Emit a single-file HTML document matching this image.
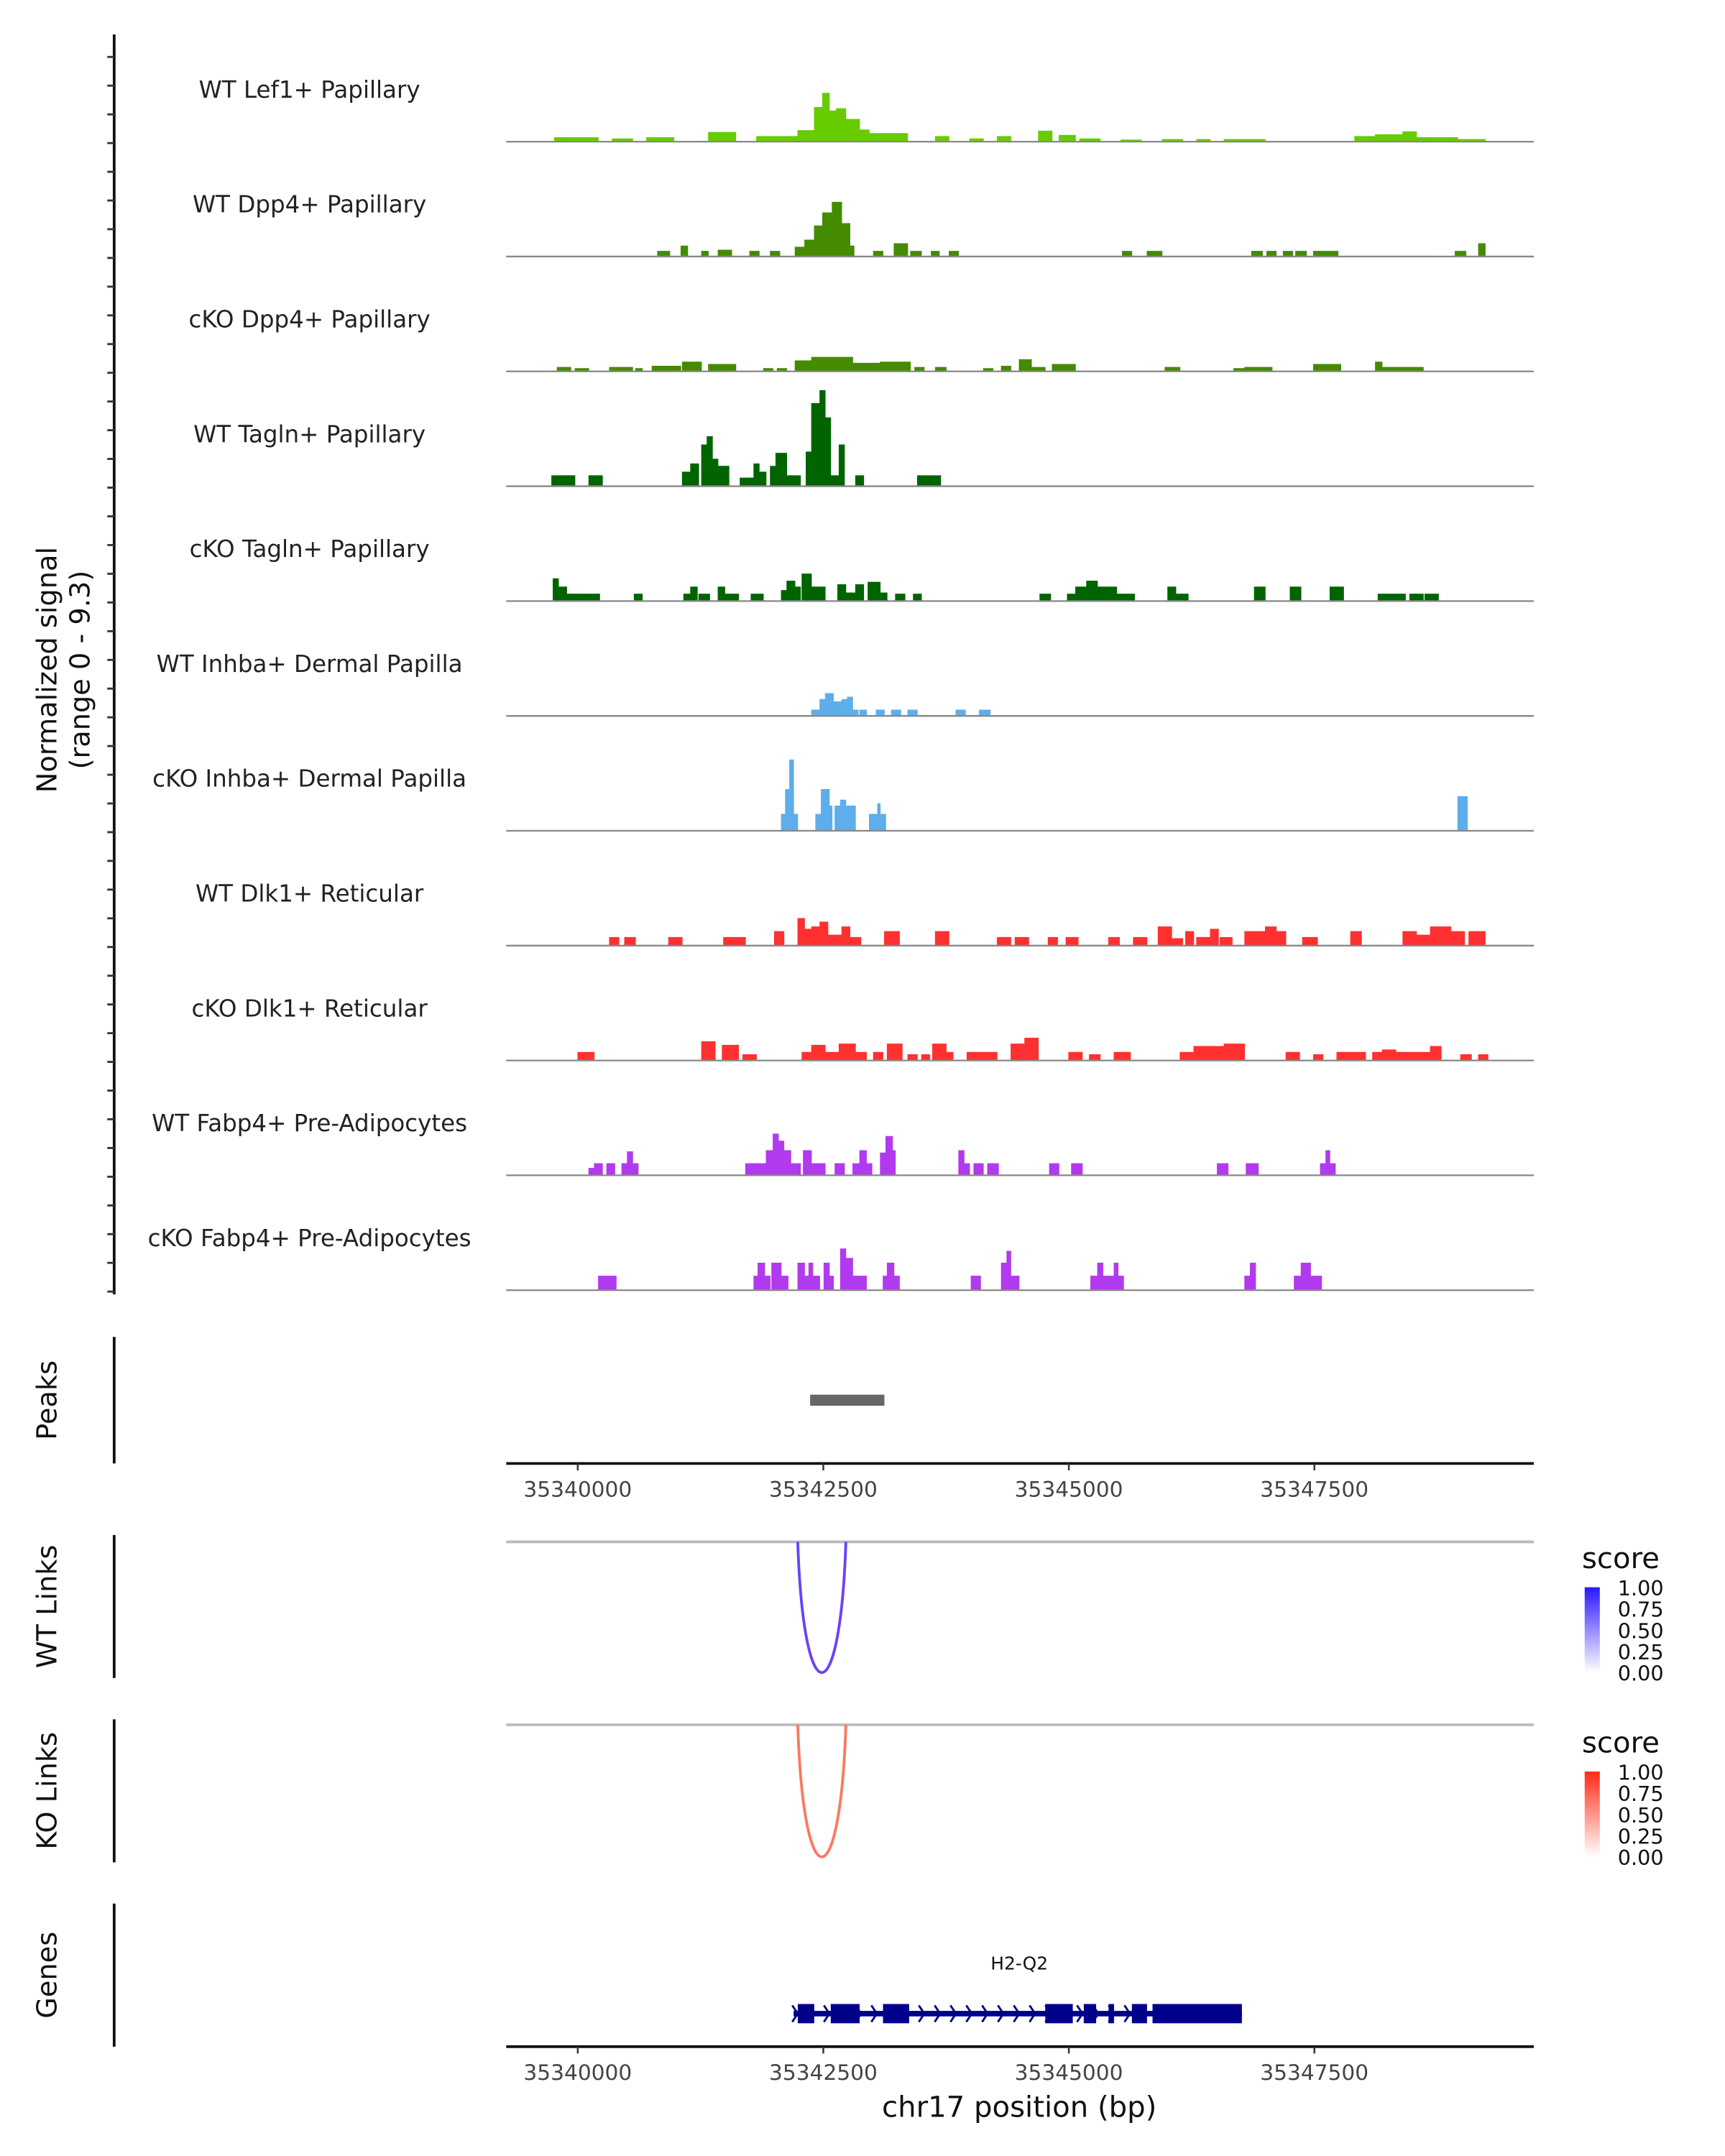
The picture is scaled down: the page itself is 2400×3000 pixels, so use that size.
<!DOCTYPE html>
<html><head><meta charset="utf-8"><style>
html,body{margin:0;padding:0;background:#fff;}
svg{display:block;font-family:"DejaVu Sans","Liberation Sans",sans-serif;}
</style></head><body>
<svg id="chart" width="2400" height="3000" viewBox="0 0 1254 1567.5" xmlns="http://www.w3.org/2000/svg">
<defs>
<linearGradient id="gWT" x1="0" y1="0" x2="0" y2="1"><stop offset="0" stop-color="#2b17ff"/><stop offset="1" stop-color="#ffffff"/></linearGradient>
<linearGradient id="gKO" x1="0" y1="0" x2="0" y2="1"><stop offset="0" stop-color="#ff2a17"/><stop offset="1" stop-color="#ffffff"/></linearGradient>
</defs>
<g id="root"></g>
</svg>
<script>
const REGION_START = 35340140;
const xTicks = [35340000, 35342500, 35345000, 35347500];
const trackNames = ["WT Lef1+ Papillary","WT Dpp4+ Papillary","cKO Dpp4+ Papillary","WT Tagln+ Papillary","cKO Tagln+ Papillary","WT Inhba+ Dermal Papilla","cKO Inhba+ Dermal Papilla","WT Dlk1+ Reticular","cKO Dlk1+ Reticular","WT Fabp4+ Pre-Adipocytes","cKO Fabp4+ Pre-Adipocytes"];
const trackColors = ["#66cc00","#458b00","#458b00","#006400","#006400","#5daeea","#5daeea","#ff3030","#ff3030","#b23aee","#b23aee"];
const Y_MAX = 9.3;
// blocks: [start offset bp, end offset bp, signal]
const lef1WT = [[-378,70,0.35],[210,420,0.25],[560,840,0.35],[1190,1470,0.8],[1680,2100,0.45],[2100,2268,0.95],[2268,2352,2.9],[2352,2422,4.1],[2422,2492,2.6],[2492,2590,2.8],[2590,2730,1.9],[2730,2828,1.0],[2828,3220,0.7],[3500,3640,0.45],[3850,3990,0.25],[4130,4270,0.45],[4550,4690,0.9],[4760,4928,0.55],[4970,5180,0.25],[5390,5600,0.15],[5810,6020,0.2],[6160,6300,0.2],[6440,6860,0.2],[7770,7980,0.45],[7980,8260,0.6],[8260,8400,0.85],[8400,8820,0.35],[8820,9100,0.2]];
const dpp4WT = [[672,798,0.45],[910,980,0.9],[1120,1190,0.45],[1288,1428,0.55],[1610,1708,0.45],[1820,1918,0.45],[2072,2170,0.8],[2170,2268,1.4],[2268,2352,2.6],[2352,2450,3.7],[2450,2548,4.6],[2548,2632,2.8],[2632,2674,0.9],[2870,2968,0.45],[3080,3220,1.1],[3248,3360,0.45],[3458,3542,0.45],[3640,3738,0.45],[5404,5502,0.45],[5656,5810,0.45],[6720,6832,0.45],[6874,6972,0.45],[7042,7140,0.45],[7168,7280,0.45],[7350,7462,0.45],[7462,7602,0.45],[8792,8904,0.45],[9030,9100,1.1]];
const dpp4KO = [[-350,-210,0.35],[-168,-28,0.25],[182,420,0.35],[448,518,0.25],[616,910,0.45],[924,1120,0.8],[1190,1470,0.6],[1750,1848,0.25],[1890,1988,0.25],[2072,2240,0.9],[2240,2660,1.2],[2660,2940,0.7],[2940,3248,0.8],[3290,3388,0.35],[3500,3612,0.35],[3990,4088,0.25],[4172,4270,0.45],[4354,4480,1.0],[4480,4620,0.35],[4690,4928,0.6],[5838,5992,0.35],[6538,6650,0.25],[6650,6930,0.35],[7350,7630,0.6],[7980,8050,0.8],[8050,8470,0.35]];
const taglnWT = [[-406,-378,0.9],[-378,-168,0.9],[-28,112,0.9],[924,1008,1.2],[1008,1092,1.9],[1120,1176,3.5],[1176,1232,4.2],[1232,1288,2.3],[1288,1400,1.7],[1512,1652,0.7],[1652,1708,1.9],[1708,1778,1.2],[1820,1876,1.7],[1876,1988,2.8],[1988,2128,0.9],[2184,2240,2.9],[2240,2324,7.0],[2324,2380,8.1],[2380,2436,5.8],[2436,2520,0.9],[2520,2576,3.5],[2688,2772,0.9],[3318,3556,0.9]];
const taglnKO = [[-392,-336,1.9],[-336,-252,1.2],[-252,84,0.6],[434,518,0.6],[938,1008,0.6],[1008,1078,1.2],[1092,1204,0.6],[1288,1358,1.2],[1358,1498,0.6],[1624,1750,0.6],[1932,1988,0.9],[1988,2072,1.7],[2072,2128,1.2],[2142,2240,2.3],[2240,2380,1.2],[2506,2590,1.4],[2590,2688,0.7],[2688,2772,1.4],[2814,2940,1.6],[2940,3010,0.7],[3094,3192,0.6],[3276,3360,0.6],[4564,4676,0.6],[4844,4928,0.6],[4928,5040,1.2],[5040,5152,1.7],[5152,5348,1.2],[5348,5530,0.6],[5866,5950,1.2],[5950,6076,0.6],[6748,6860,1.2],[7112,7224,1.2],[7518,7658,1.2],[8008,8148,0.6],[8148,8288,0.6],[8330,8470,0.6],[8484,8624,0.6]];
const inhbaWT = [[2240,2324,0.5],[2324,2380,1.4],[2380,2464,1.9],[2464,2548,1.2],[2548,2604,1.4],[2604,2660,1.6],[2660,2716,0.5],[2730,2800,0.5],[2898,2982,0.5],[3052,3150,0.5],[3220,3318,0.5],[3710,3808,0.5],[3948,4060,0.5]];
const inhbaKO = [[1932,1974,1.4],[1974,2016,3.5],[2016,2058,6.0],[2058,2100,1.4],[2282,2338,1.4],[2338,2422,3.5],[2422,2450,2.1],[2478,2534,2.1],[2534,2590,2.6],[2590,2688,2.1],[2828,2912,1.4],[2912,2940,2.3],[2940,2996,1.4],[8820,8918,2.9]];
const dlk1WT = [[182,280,0.7],[336,448,0.7],[784,924,0.7],[1344,1428,0.7],[1428,1568,0.7],[1862,1960,1.2],[2100,2170,2.3],[2170,2240,1.4],[2240,2324,1.6],[2324,2408,2.0],[2408,2548,0.9],[2548,2632,1.6],[2632,2744,0.7],[2982,3136,1.2],[3500,3640,1.2],[4130,4270,0.7],[4312,4452,0.7],[4648,4746,0.7],[4830,4956,0.7],[5264,5376,0.7],[5516,5656,0.7],[5768,5908,1.6],[5908,6020,0.6],[6048,6132,1.2],[6160,6300,0.7],[6300,6384,1.4],[6398,6524,0.7],[6650,6748,1.2],[6748,6860,1.2],[6860,6972,1.6],[6972,7070,1.2],[7238,7392,0.7],[7728,7840,1.2],[8260,8400,1.2],[8400,8540,0.9],[8540,8750,1.6],[8750,8890,1.2],[8932,9100,1.2]];
const dlk1KO = [[-140,28,0.7],[1120,1260,1.6],[1330,1498,1.3],[1540,1680,0.5],[2142,2240,0.7],[2240,2380,1.3],[2380,2520,0.7],[2520,2688,1.4],[2688,2800,0.7],[2870,2968,0.7],[3010,3164,1.4],[3220,3318,0.5],[3360,3444,0.5],[3472,3612,1.4],[3612,3682,0.7],[3822,3948,0.7],[3948,4130,0.7],[4270,4410,1.4],[4410,4550,1.9],[4858,4998,0.7],[5068,5180,0.5],[5320,5488,0.7],[5992,6132,0.7],[6132,6328,1.2],[6328,6440,1.2],[6440,6650,1.4],[7070,7210,0.7],[7350,7448,0.5],[7588,7672,0.7],[7672,7882,0.7],[7952,8050,0.7],[8050,8190,0.9],[8190,8330,0.7],[8330,8540,0.7],[8540,8652,1.2],[8848,8960,0.5],[9030,9128,0.5]];
const fabp4WT = [[-28,28,0.6],[28,112,1.0],[154,238,1.0],[308,364,1.0],[364,420,2.0],[420,476,1.0],[1568,1680,1.0],[1680,1778,1.0],[1778,1848,2.1],[1848,1904,3.5],[1904,1960,2.9],[1960,2030,2.1],[2030,2128,1.0],[2156,2240,2.1],[2240,2380,1.0],[2478,2576,1.0],[2660,2730,1.0],[2730,2800,2.1],[2800,2856,1.0],[2940,2996,1.9],[2996,3066,3.3],[3066,3094,2.1],[3738,3794,2.1],[3794,3850,1.0],[3892,3990,1.0],[4032,4144,1.0],[4662,4760,1.0],[4886,4998,1.0],[6370,6482,1.0],[6664,6790,1.0],[7420,7476,1.0],[7476,7518,2.1],[7518,7574,1.0]];
const fabp4KO = [[70,252,1.2],[1652,1694,1.2],[1694,1764,2.3],[1764,1820,1.2],[1834,1932,2.3],[1932,2002,1.2],[2100,2170,2.3],[2170,2212,1.2],[2212,2254,2.3],[2254,2324,1.2],[2366,2422,2.3],[2422,2464,1.2],[2534,2590,3.5],[2590,2660,2.7],[2660,2800,1.2],[2968,3010,1.2],[3010,3080,2.3],[3080,3136,1.2],[3864,3962,1.2],[4172,4228,2.3],[4228,4270,3.3],[4270,4354,1.2],[5082,5152,1.2],[5152,5208,2.3],[5208,5320,1.2],[5320,5362,2.3],[5362,5418,1.2],[6650,6706,1.2],[6706,6762,2.3],[7154,7224,1.2],[7224,7322,2.3],[7322,7434,1.2]];
const trackData = [lef1WT, dpp4WT, dpp4KO, taglnWT, taglnKO, inhbaWT, inhbaKO, dlk1WT, dlk1KO, fabp4WT, fabp4KO];
const peaks = [[2226, 2982]];
const wtLinks = [[2100, 2590, 0.75]];
const koLinks = [[2100, 2590, 0.75]];
const geneName = "H2-Q2";
const geneSpan = [2058, 6622];
const exons = [[2100,2268],[2436,2730],[2968,3234],[4620,4900],[5012,5138],[5264,5320],[5502,5656],[5712,6622]];
const legendLabels = ["1.00","0.75","0.50","0.25","0.00"];

const NS = "http://www.w3.org/2000/svg";
const root = document.getElementById("root");
function mk(tag, attrs, parent) {
  const e = document.createElementNS(NS, tag);
  for (const k in attrs) e.setAttribute(k, attrs[k]);
  (parent || root).appendChild(e);
  return e;
}
const PX0 = 368, PX1 = 1115;
const xs = bp => 420 + (bp - 35340000) * (178.5 / 2500);
const xo = off => xs(REGION_START + off);
const TRACK_TOP0 = 103, TRACK_STEP = 83.5, TRACK_H = 80;
const ys = (v, base) => base - v / Y_MAX * TRACK_H;

let e = mk("line", {x1:83, y1:25, x2:83, y2:941, stroke:"#111", "stroke-width":2});


for (let t = 41.4; t < 942; t += TRACK_STEP / 4) {
  e = mk("line", {x1:78, y1:t, x2:83, y2:t, stroke:"#333", "stroke-width":1.5});
  
  
}
e = mk("text", {x:0, y:0, transform:"translate(41,487) rotate(-90)", "text-anchor":"middle", "font-size":20, fill:"#111"});
e.textContent = "Normalized signal";


e = mk("text", {x:0, y:0, transform:"translate(65,487) rotate(-90)", "text-anchor":"middle", "font-size":20, fill:"#111"});
e.textContent = "(range 0 - 9.3)";



trackData.forEach((blocks, i) => {
  const base = TRACK_TOP0 + i * TRACK_STEP;
  const g = mk("g", {});
  
  
  const lab = mk("text", {x:225, y:base - 32, "text-anchor":"middle", "font-size":17, fill:"#222"}, g);
  lab.textContent = trackNames[i];
  
  
  let d = "";
  blocks.forEach(b => {
    const x1 = xo(b[0]), x2 = xo(b[1]), y = ys(b[2], base);
    d += `M${x1.toFixed(2)},${base} L${x1.toFixed(2)},${y.toFixed(2)} L${x2.toFixed(2)},${y.toFixed(2)} L${x2.toFixed(2)},${base} Z `;
  });
  const p = mk("path", {d:d, fill:trackColors[i], stroke:trackColors[i], "stroke-width":0.4}, g);
  
  
  const bl = mk("line", {x1:PX0, y1:base, x2:PX1, y2:base, stroke:"#888", "stroke-width":1.2}, g);
  
  
});

function sideTitle(txt, cy, y1, y2, name) {
  const a = mk("line", {x1:83, y1:y1, x2:83, y2:y2, stroke:"#111", "stroke-width":2});
  
  
  const t = mk("text", {x:0, y:0, transform:`translate(41,${cy}) rotate(-90)`, "text-anchor":"middle", "font-size":20, fill:"#111"});
  t.textContent = txt;
  
  
}
sideTitle("Peaks", 1018, 972, 1064, "peaks");
sideTitle("WT Links", 1168, 1116, 1220, "wt-links");
sideTitle("KO Links", 1302, 1250, 1354, "ko-links");
sideTitle("Genes", 1436, 1384, 1488, "genes");

peaks.forEach(pk => {
  const r = mk("rect", {x:xo(pk[0]), y:1014, width:xo(pk[1]) - xo(pk[0]), height:8, fill:"#666"});
  
  
});

function xAxis(y, name) {
  const a = mk("line", {x1:PX0, y1:y, x2:PX1, y2:y, stroke:"#111", "stroke-width":2});
  
  
  xTicks.forEach(t => {
    const tk = mk("line", {x1:xs(t), y1:y, x2:xs(t), y2:y + 5, stroke:"#333", "stroke-width":1.3});
    
    
    const tl = mk("text", {x:xs(t), y:y + 24, "text-anchor":"middle", "font-size":15.5, fill:"#444"});
    tl.textContent = String(t);
    
    
  });
}
xAxis(1064, 'peaks-x-axis');

function links(list, top, bottom, colorFn, name) {
  const gl = mk("line", {x1:PX0, y1:top, x2:PX1, y2:top, stroke:"#bbb", "stroke-width":2});
  
  
  list.forEach(l => {
    const x1 = xo(l[0]), x2 = xo(l[1]);
    const depth = (bottom - top) * 4 / 3;
    const p = mk("path", {d:`M${x1},${top} C${x1 + (x2 - x1) * 0.12},${top + depth} ${x2 - (x2 - x1) * 0.12},${top + depth} ${x2},${top}`, fill:"none", stroke:colorFn(l[2]), "stroke-width":2});
    
    
  });
}
links(wtLinks, 1121, 1216, s => "#6a42f6", 'wt-link');
links(koLinks, 1254, 1350, s => "#f87a60", 'ko-link');

function legend(y0, grad, name) {
  const t = mk("text", {x:1150, y:y0, "font-size":21, fill:"#111"});
  t.textContent = "score";
  
  
  const r = mk("rect", {x:1152, y:y0 + 14, width:11, height:62, fill:`url(#${grad})`});
  
  
  legendLabels.forEach((lb, k) => {
    const tt = mk("text", {x:1176, y:y0 + 20 + k * 15.5, "font-size":15, fill:"#111"});
    tt.textContent = lb;
    
    
  });
}
legend(1140, "gWT", "wt");
legend(1274, "gKO", "ko");

const gg = mk("g", {});


const gy = 1464;
const gl = mk("text", {x:741, y:1432, "text-anchor":"middle", "font-size":13, fill:"#111"}, gg);
gl.textContent = geneName;


const intr = mk("rect", {x:xo(geneSpan[0]), y:gy - 2, width:xo(geneSpan[1]) - xo(geneSpan[0]), height:4, fill:"#00008b"}, gg);


for (let x = xo(geneSpan[0]) + 2; x < xo(geneSpan[1]); x += 11.5) {
  const ch = mk("path", {d:`M${x - 3},${gy - 6} L${x + 1},${gy} L${x - 3},${gy + 6}`, fill:"none", stroke:"#00008b", "stroke-width":1.5}, gg);
  
  
}
exons.forEach(ex => {
  const r = mk("rect", {x:xo(ex[0]), y:gy - 7, width:xo(ex[1]) - xo(ex[0]), height:14, fill:"#00008b"}, gg);
  
  
});
xAxis(1488, 'genes-x-axis');
e = mk("text", {x:741, y:1539, "text-anchor":"middle", "font-size":21, fill:"#111"});
e.textContent = "chr17 position (bp)";


</script>
</body></html>
